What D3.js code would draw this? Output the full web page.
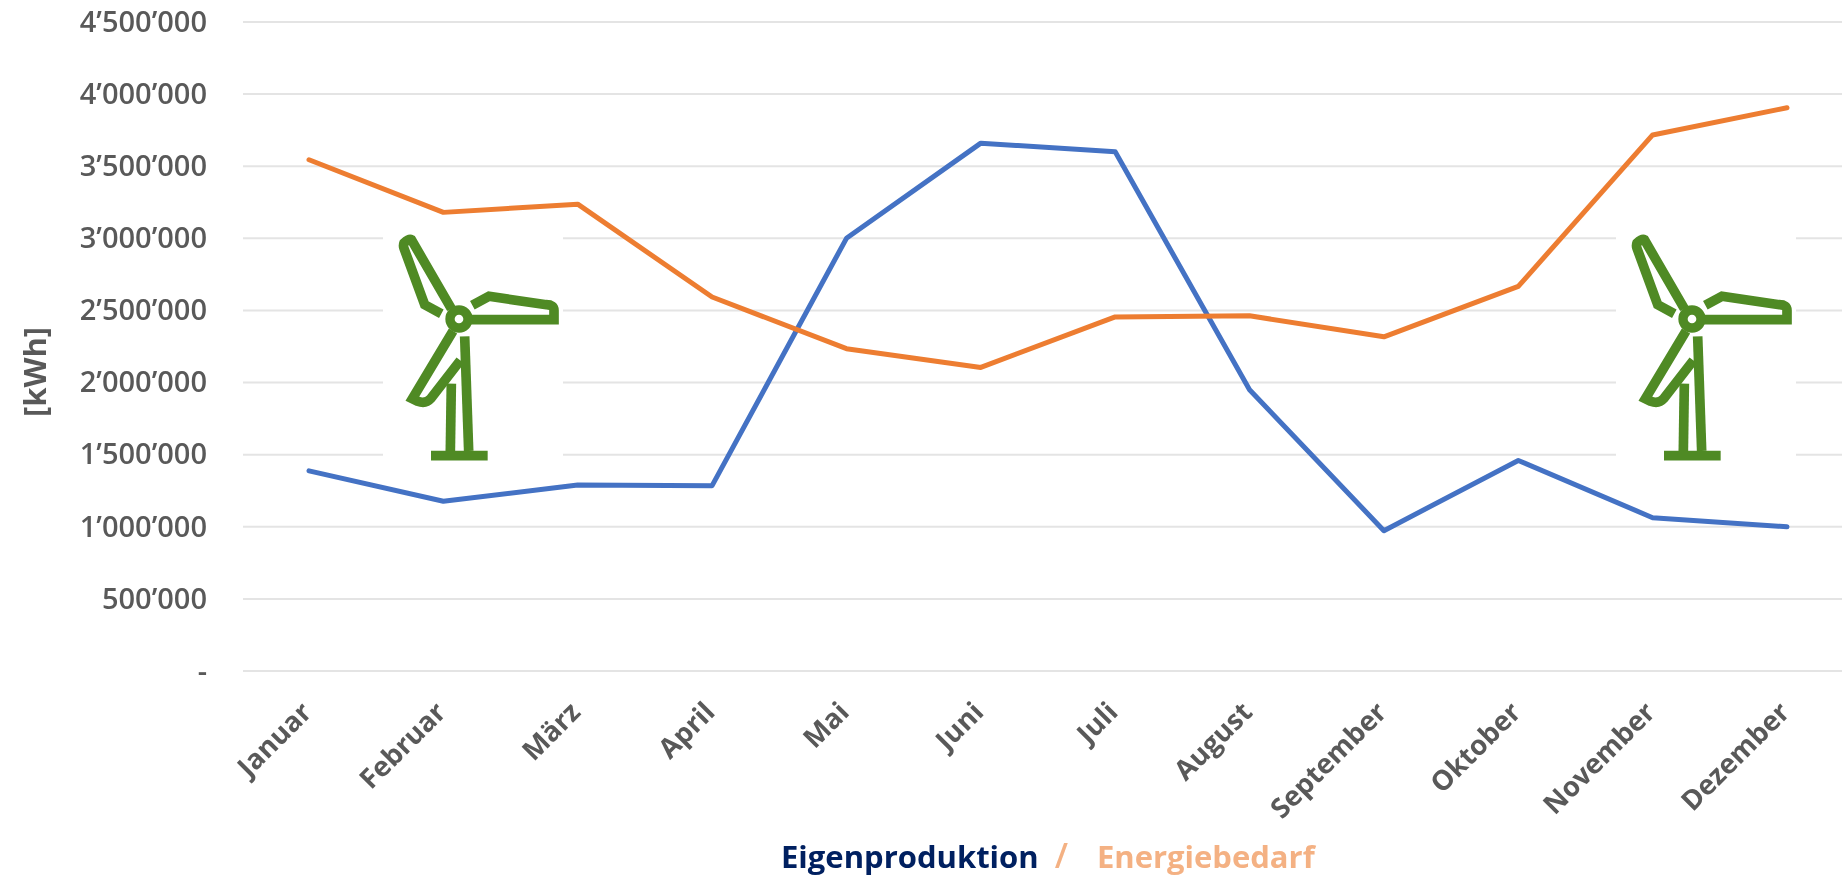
<!DOCTYPE html>
<html>
<head>
<meta charset="utf-8">
<script src="https://cdn.jsdelivr.net/npm/d3@7"></script>
<style>
    html, body { margin: 0; padding: 0; background: #fff; overflow: hidden; }
    svg { filter: blur(0.6px); }
    text { font-family: "Open Sans", sans-serif; }
</style>
</head>
<body>
<svg id="chart"></svg>
<script>
const months = ["Januar", "Februar", "März", "April", "Mai", "Juni", "Juli", "August", "September", "Oktober", "November", "Dezember"];
const eigenproduktion = [1388000, 1177000, 1290000, 1285000, 3000000, 3660000, 3600000, 1950000, 973000, 1460000, 1063000, 1000000];
const energiebedarf = [3545000, 3180000, 3237000, 2593000, 2235000, 2105000, 2455000, 2463000, 2317000, 2667000, 3717000, 3905000];
const yTicks = [0, 500000, 1000000, 1500000, 2000000, 2500000, 3000000, 3500000, 4000000, 4500000];

const svgWidth = 1842;
const svgHeight = 879;

const svg = d3.select("#chart")
    .attr("width", svgWidth)
    .attr("height", svgHeight);

// scales, pixel ranges measured on the reference
const xScale = d3.scalePoint().domain(months).range([309, 1787]);
const yScale = d3.scaleLinear().domain([0, 4500000]).range([671, 22]);

const swissFormat = d3.formatLocale({ thousands: "’", grouping: [3], decimal: ".", currency: ["", ""] }).format(",");

// grid
svg.append("g")
    .selectAll("line")
    .data(yTicks)
    .join("line")
    .attr("x1", 243)
    .attr("x2", svgWidth)
    .attr("y1", d => yScale(d))
    .attr("y2", d => yScale(d))
    .attr("stroke", "#e4e4e4")
    .attr("stroke-width", 2);

// y axis
const yAxis = d3.axisLeft(yScale)
    .tickValues(yTicks)
    .tickSize(0)
    .tickPadding(36)
    .tickFormat(d => d === 0 ? "-" : swissFormat(d));

svg.append("g")
    .attr("class", "y axis")
    .attr("transform", "translate(243, 0)")
    .call(yAxis)
    .call(g => g.select(".domain").remove());

// x axis
const xAxis = d3.axisBottom(xScale).tickSize(0);

svg.append("g")
    .attr("class", "x axis")
    .attr("transform", "translate(0, 671)")
    .call(xAxis)
    .call(g => g.select(".domain").remove());

svg.selectAll(".x.axis text")
    .attr("transform", "translate(-3, 36) rotate(-45)")
    .attr("y", 0)
    .attr("dy", "0.35em")
    .style("text-anchor", "end")
    .attr("font-size", "27.5px")
    .attr("font-weight", 700);

svg.selectAll(".y.axis text")
    .attr("font-size", "29px")
    .attr("font-weight", 600);

svg.selectAll(".axis text")
    .attr("fill", "#595959")
    .style("font-family", '"Open Sans", sans-serif');

// axis title
svg.append("text")
    .attr("transform", "translate(46, 372) rotate(-90)")
    .attr("text-anchor", "middle")
    .attr("fill", "#595959")
    .attr("font-size", "31px")
    .attr("font-weight", 700)
    .text("[kWh]");

// white boxes behind the turbines cut the grid lines
const turbineHubs = [[459, 319], [1692, 319]];

svg.append("g")
    .selectAll("rect")
    .data(turbineHubs)
    .join("rect")
    .attr("x", d => d[0] - 76)
    .attr("y", d => d[1] - 90)
    .attr("width", 180)
    .attr("height", 232)
    .attr("fill", "#fff");

// lines
const line = d3.line()
    .x((d, i) => xScale(months[i]))
    .y(d => yScale(d));

svg.append("path")
    .datum(eigenproduktion)
    .attr("d", line)
    .attr("fill", "none")
    .attr("stroke", "#4472c4")
    .attr("stroke-width", 5)
    .attr("stroke-linecap", "round")
    .attr("stroke-linejoin", "round");

svg.append("path")
    .datum(energiebedarf)
    .attr("d", line)
    .attr("fill", "none")
    .attr("stroke", "#ed7d31")
    .attr("stroke-width", 5)
    .attr("stroke-linecap", "round")
    .attr("stroke-linejoin", "round");

// turbine icon, local units are 3x pixels around the hub
const turbineParts = [
    "M-23,-31 L-143,-238 Q-150,-242 -165,-228 Q-168,-220 -165,-212 L-103,-43 L-53,-16",
    "M32,2 L285,2 L285,-26 Q285,-43 262,-43 L90,-68 L40,-41",
    "M-18,36 L-140,239 L-124,247 Q-100,256 -85,239 L4,124",
    "M17,52 L29,396",
    "M-23,194 L-26,396",
    "M-84,410 L86,410"
];

const turbines = svg.append("g")
    .selectAll("g")
    .data(turbineHubs)
    .join("g")
    .attr("transform", d => `translate(${d[0]}, ${d[1]}) scale(${1 / 3})`);

turbineParts.forEach(part => {
    turbines.append("path")
        .attr("d", part)
        .attr("fill", "none")
        .attr("stroke", "#4f8a24")
        .attr("stroke-width", 29);
});

turbines.append("circle")
    .attr("r", 27)
    .attr("fill", "#fff")
    .attr("stroke", "#4f8a24")
    .attr("stroke-width", 28);

// legend written as a title
const legend = svg.append("text")
    .attr("x", 781)
    .attr("y", 868)
    .attr("font-size", "31px")
    .attr("font-weight", 700);

legend.append("tspan").attr("fill", "#002060").text("Eigenproduktion");
legend.append("tspan").attr("fill", "#f4b183").attr("dx", 16).attr("font-size", "34px").attr("font-weight", 600).text("/");
legend.append("tspan").attr("fill", "#f4b183").attr("dx", 29).text("Energiebedarf");
</script>
</body>
</html>
